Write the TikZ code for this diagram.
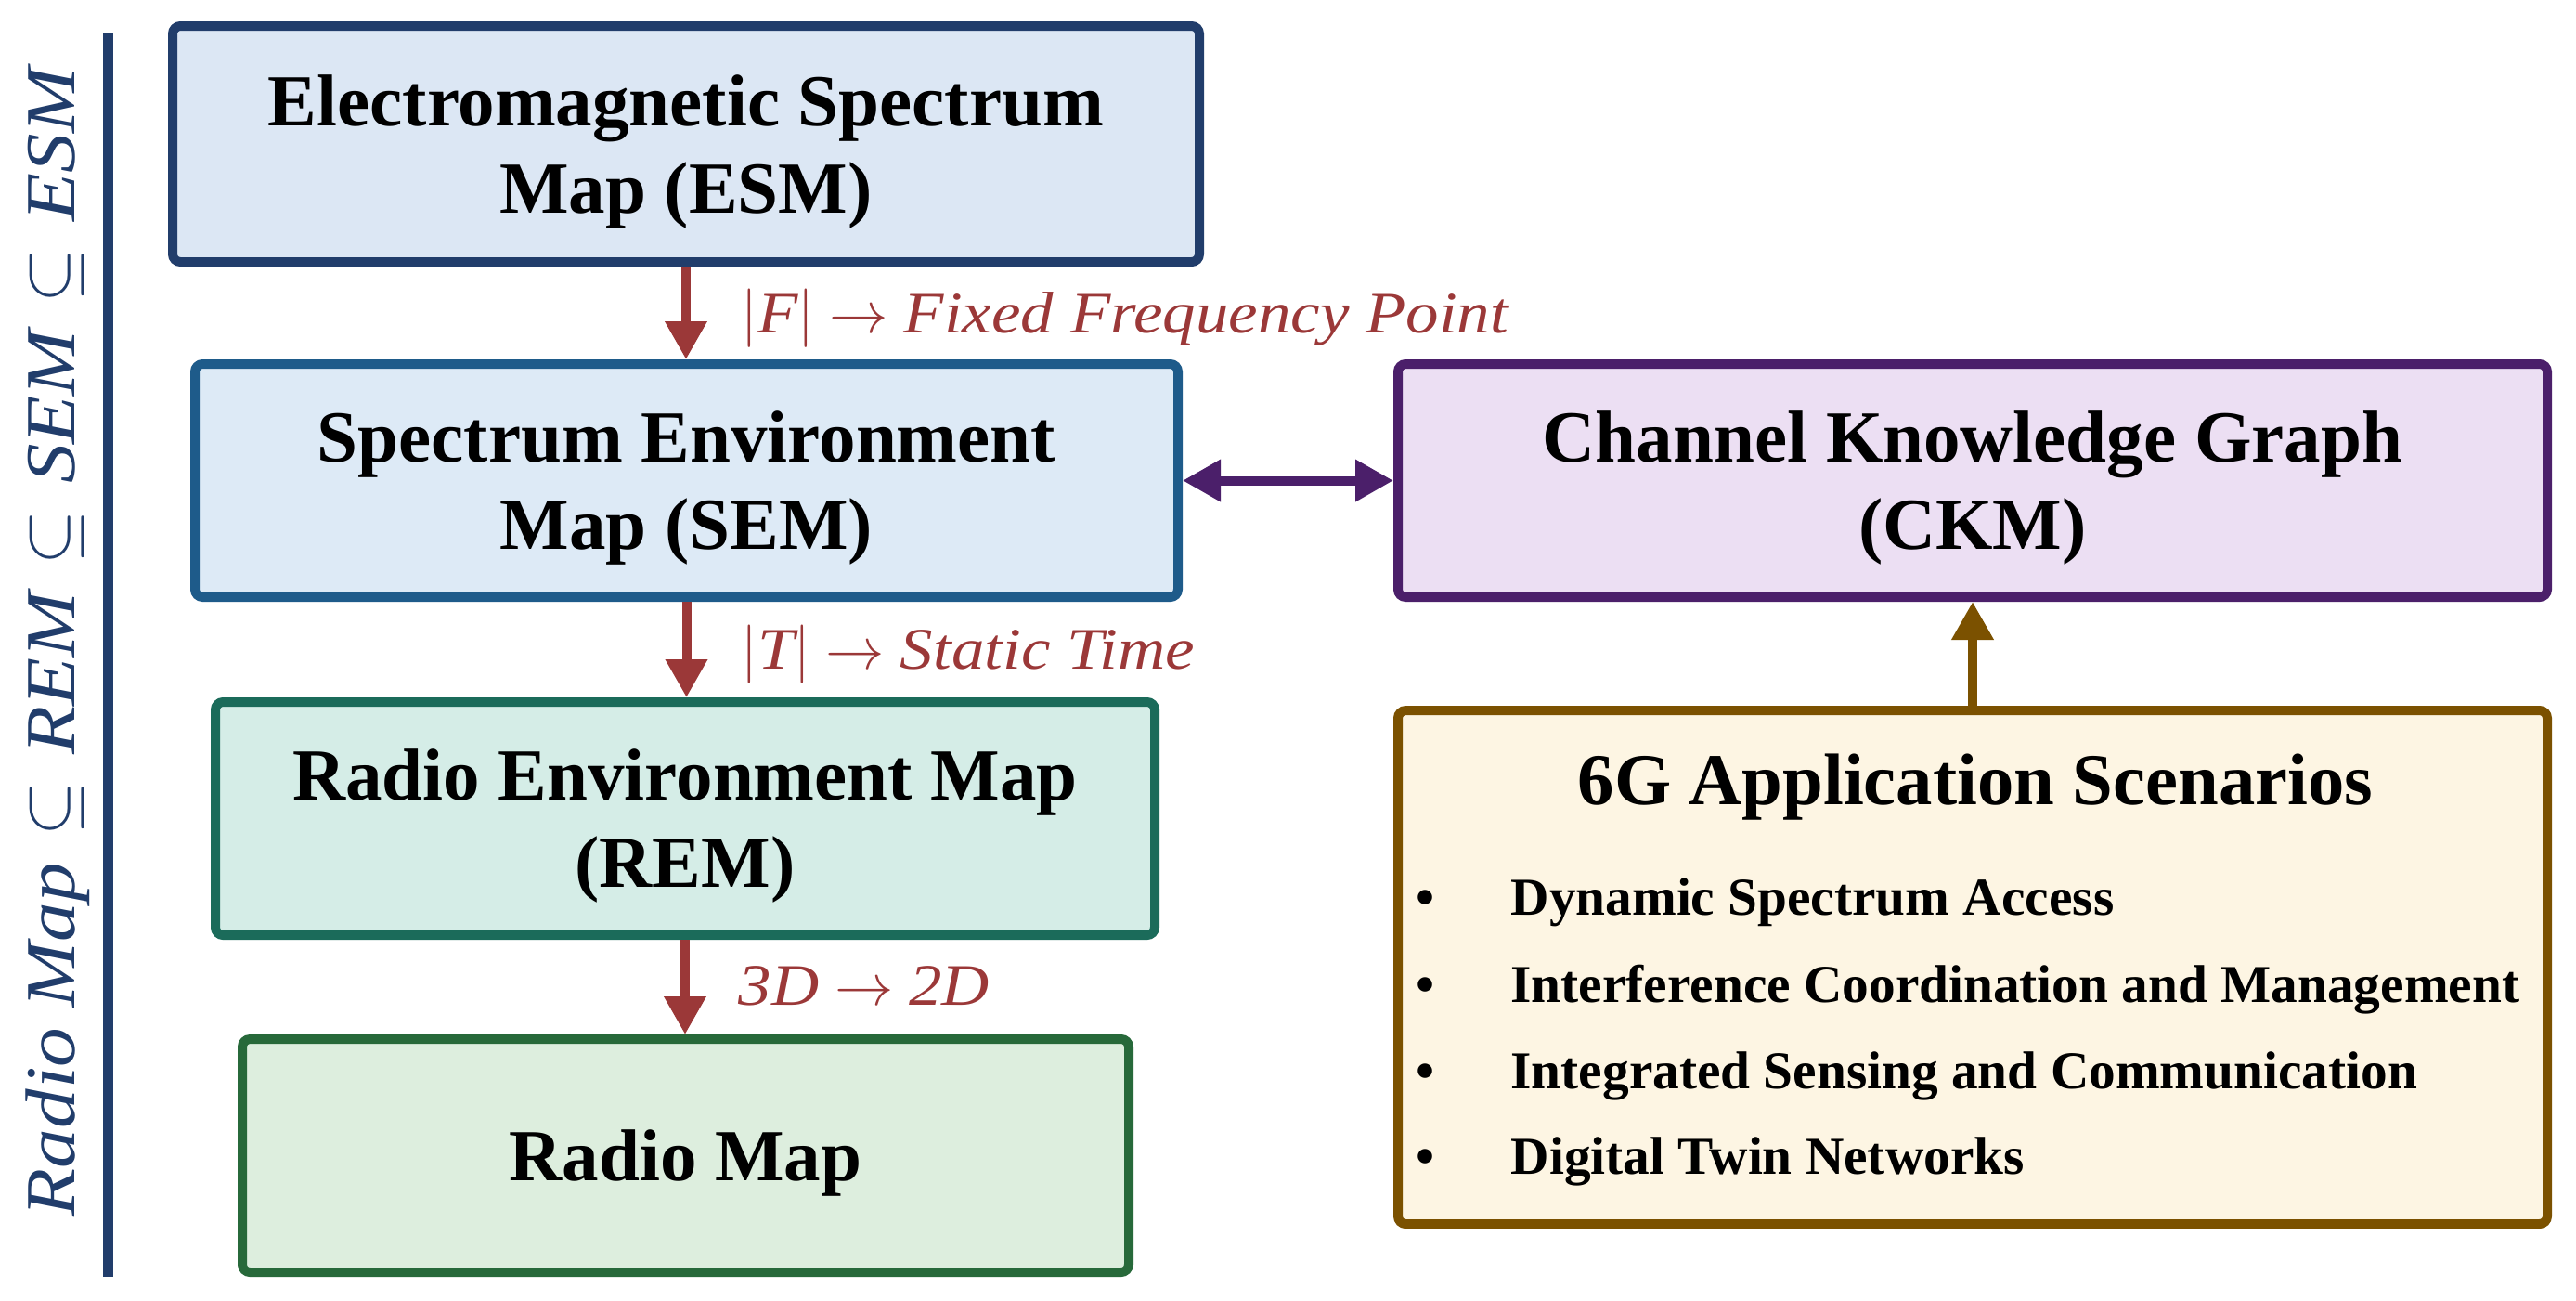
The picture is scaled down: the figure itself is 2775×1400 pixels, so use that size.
\RequirePackage{fix-cm}
\documentclass[tikz,border=0pt]{standalone}
\usepackage{fontspec}
\setmainfont{Liberation Serif}
\newfontfamily\labfont[FakeStretch=1.12]{Liberation Serif}
\usetikzlibrary{arrows.meta}
\definecolor{navyc}{HTML}{213D6B}
\definecolor{esmB}{HTML}{213D6B}
\definecolor{esmF}{HTML}{DCE7F4}
\definecolor{semB}{HTML}{1E5B8A}
\definecolor{semF}{HTML}{DDEAF6}
\definecolor{remB}{HTML}{1B6B5A}
\definecolor{remF}{HTML}{D5EDE7}
\definecolor{rmB}{HTML}{27693A}
\definecolor{rmF}{HTML}{DDEEDE}
\definecolor{ckmB}{HTML}{4B1F6A}
\definecolor{ckmF}{HTML}{ECDFF3}
\definecolor{sgB}{HTML}{7B5100}
\definecolor{sgF}{HTML}{FDF5E3}
\definecolor{redc}{HTML}{9B3838}
\tikzset{
  box/.style={draw, line width=3pt, rounded corners=2.5pt, align=center, inner sep=0pt,
    text depth=-1pt, font=\bfseries\fontsize{23.7}{28.2}\selectfont},
  lab/.style={text=redc, inner sep=0pt, font=\labfont\itshape\fontsize{19}{23}\selectfont},
  item/.style={inner sep=0pt, font=\bfseries\fontsize{17.2}{21}\selectfont},
  redarr/.style={draw=redc, line width=3pt, -{Triangle[width=12.9pt,length=12.3pt]}},
}
\begin{document}
\begin{tikzpicture}[x=0.3pt,y=-0.3pt]
\useasboundingbox (0,0) rectangle (2775,1400);
% side rule and label
\draw[navyc, line width=3.3pt] (116,36) -- (116,1375);
\node[text=navyc, rotate=90, anchor=base, inner sep=0pt,
  font=\labfont\itshape\fontsize{22.8}{27}\selectfont] (side) at (80,691.5)
  {Radio Map\hspace{0.38em}$\subseteq$\hspace{0.38em}REM\hspace{0.38em}$\subseteq$\hspace{0.38em}SEM\hspace{0.38em}$\subseteq$\hspace{0.38em}ESM};
% boxes
\node[box, draw=esmB, fill=esmF, minimum width=331.8pt, minimum height=76.2pt] (esm) at (739,155) {Electromagnetic Spectrum\\Map (ESM)};
\node[box, draw=semB, fill=semF, minimum width=317.7pt, minimum height=75.3pt] (sem) at (739.5,517.5) {Spectrum Environment\\Map (SEM)};
\node[box, draw=remB, fill=remF, minimum width=303.6pt, minimum height=75.3pt] (rem) at (738,881.5) {Radio Environment Map\\(REM)};
\node[box, draw=rmB, fill=rmF, minimum width=286.5pt, minimum height=75.3pt] (rm) at (738.5,1244.5) {Radio Map};
\node[box, draw=ckmB, fill=ckmF, minimum width=371.4pt, minimum height=75.3pt] (ckm) at (2125,517.5) {Channel Knowledge Graph\\(CKM)};
\node[box, draw=sgB, fill=sgF, minimum width=371.4pt, minimum height=165.9pt] (sg) at (2125,1041.5) {};
% 6G contents
\node[inner sep=0pt, anchor=base, font=\bfseries\fontsize{23.6}{28}\selectfont] (sgt) at (2128,866) {6G Application Scenarios};
\node[item, anchor=base] (b1) at (1536,985) {\textbullet};
\node[item, anchor=base] (b2) at (1536,1079) {\textbullet};
\node[item, anchor=base] (b3) at (1536,1172) {\textbullet};
\node[item, anchor=base] (b4) at (1536,1264) {\textbullet};
\node[item, anchor=base west] (i1) at (1627,985) {Dynamic Spectrum Access};
\node[item, anchor=base west] (i2) at (1627,1079) {Interference Coordination and Management};
\node[item, anchor=base west] (i3) at (1627,1172) {Integrated Sensing and Communication};
\node[item, anchor=base west] (i4) at (1627,1264) {Digital Twin Networks};
% arrows
\draw[redarr] (esm.south) -- (esm.south |- sem.north);
\draw[redarr] (sem.south) -- (sem.south |- rem.north);
\draw[redarr] (rem.south) -- (rem.south |- rm.north);
\draw[draw=ckmB, line width=3pt, {Triangle[width=12.9pt,length=12.3pt]}-{Triangle[width=12.9pt,length=12.3pt]}] (sem.east) -- (ckm.west);
\draw[draw=sgB, line width=3pt, -{Triangle[width=12.9pt,length=12.3pt]}] (sg.north) -- (ckm.south);
% arrow labels
\node[lab, anchor=base west] (l1) at (798,358) {$|$F$|$\hspace{5pt}$\rightarrow$\hspace{5pt}Fixed Frequency Point};
\node[lab, anchor=base west] (l2) at (798,720) {$|$T$|$\hspace{5pt}$\rightarrow$\hspace{5pt}Static Time};
\node[lab, anchor=base west] (l3) at (795,1082) {3D\hspace{5pt}$\rightarrow$\hspace{5pt}2D};
\end{tikzpicture}
\end{document}
